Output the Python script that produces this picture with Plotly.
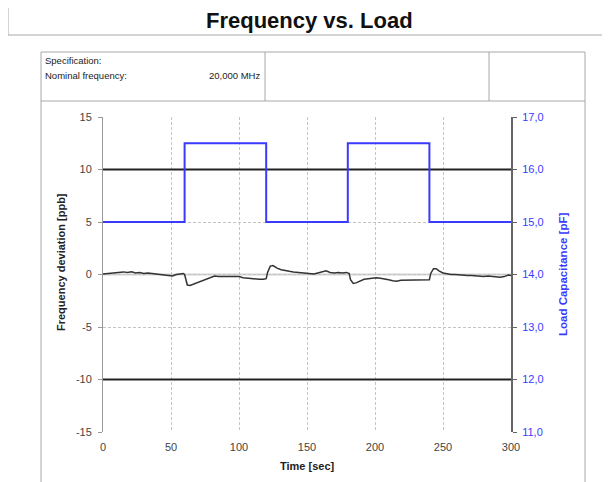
import plotly.graph_objects as go

# ---- data ----
time_s = [0, 3, 6, 9, 12, 15, 18, 21, 24, 27, 30, 33, 36, 39, 42, 45, 48, 51, 54, 57, 59,
          60, 61, 62, 64, 67, 70, 73, 76, 79, 82, 85, 88, 91, 94, 97, 100, 103, 106, 109,
          112, 115, 118, 120, 121, 123, 125, 128, 131, 134, 137, 140, 143, 146, 149, 152,
          155, 158, 161, 164, 167, 170, 173, 176, 179, 181, 182, 184, 186, 189, 192, 195,
          198, 201, 204, 207, 210, 213, 216, 219, 222, 225, 228, 231, 234, 237, 240, 241,
          243, 245, 247, 250, 253, 256, 259, 262, 265, 268, 271, 274, 277, 280, 283, 286,
          289, 292, 295, 298, 300]
freq_dev = [0.05, 0.1, 0.1, 0.15, 0.2, 0.25, 0.2, 0.25, 0.15, 0.2, 0.1, 0.15, 0.1, 0.05,
            0.0, -0.05, -0.1, -0.15, 0.0, 0.05, 0.1,
            0.0, -0.6, -1.0, -1.05, -0.9, -0.75, -0.6, -0.45, -0.3, -0.15, -0.2, -0.2, -0.25,
            -0.2, -0.25, -0.2, -0.3, -0.35, -0.4,
            -0.45, -0.45, -0.45, -0.4, 0.2, 0.8, 0.85, 0.6, 0.45, 0.35, 0.3, 0.25, 0.2, 0.15,
            0.1, 0.1,
            0.05, 0.15, 0.25, 0.35, 0.2, 0.15, 0.2, 0.15, 0.2, 0.1, -0.5, -0.85, -0.8, -0.6,
            -0.45, -0.4,
            -0.35, -0.3, -0.35, -0.4, -0.5, -0.6, -0.65, -0.55, -0.55, -0.5, -0.5, -0.5,
            -0.55, -0.5, -0.5, 0.1,
            0.55, 0.55, 0.35, 0.15, 0.05, 0.0, 0.0, -0.05, -0.05, -0.1, -0.1, -0.15, -0.15,
            -0.2, -0.15, -0.2,
            -0.2, -0.25, -0.2, -0.05, -0.1]

load_time = [0, 60, 60, 120, 120, 180, 180, 240, 240, 300]
load_pf = [15.0, 15.0, 16.5, 16.5, 15.0, 15.0, 16.5, 16.5, 15.0, 15.0]

spec_limits = [10, -10]
x_range = [0, 300]
y_range = [-15, 15]
y2_range = [11, 17]
x_ticks = [0, 50, 100, 150, 200, 250, 300]
y_ticks = [-15, -10, -5, 0, 5, 10, 15]
y_labels = ["-15", "-10", "-5", "0", "5", "10", "15"]
y2_ticks = [11, 12, 13, 14, 15, 16, 17]
y2_labels = ["11,0", "12,0", "13,0", "14,0", "15,0", "16,0", "17,0"]

# page body margin offset (8px) compensation
OX, OY = 8, 8
W, H = 610 - OX, 482 - OY
L, R, T, B = 103 - OX, 511 - OX, 117 - OY, 432 - OY

def px(x):
    return (x - OX - L) / (R - L)

def py(y):
    return (B - (y - OY)) / (B - T)

FONT = "Liberation Sans, Arial, sans-serif"
BLUE = "#3a3aff"
GRIDC = "#c4c4c4"
BOXC = "#a8a8a8"

fig = go.Figure()

for lim in spec_limits:
    fig.add_trace(go.Scatter(x=x_range, y=[lim, lim], mode="lines",
                             line=dict(color="#222222", width=2),
                             showlegend=False, hoverinfo="skip"))

fig.add_trace(go.Scatter(x=time_s, y=freq_dev, mode="lines",
                         line=dict(color="#333333", width=1.5),
                         showlegend=False, name="Frequency deviation"))

fig.add_trace(go.Scatter(x=load_time, y=load_pf, mode="lines", yaxis="y2",
                         line=dict(color=BLUE, width=2),
                         showlegend=False, name="Load capacitance"))

shapes = []
shapes.append(dict(type="rect", xref="paper", yref="paper",
                   x0=px(8), x1=px(640), y0=py(7), y1=py(35),
                   line=dict(color=BOXC, width=1), fillcolor="rgba(0,0,0,0)", layer="below"))
shapes.append(dict(type="rect", xref="paper", yref="paper",
                   x0=px(41), x1=px(585), y0=py(52), y1=py(520),
                   line=dict(color=BOXC, width=1), fillcolor="rgba(0,0,0,0)", layer="below"))
shapes.append(dict(type="line", xref="paper", yref="paper",
                   x0=px(41), x1=px(585), y0=py(101), y1=py(101),
                   line=dict(color=BOXC, width=1)))
for dx in (265, 489):
    shapes.append(dict(type="line", xref="paper", yref="paper",
                       x0=px(dx), x1=px(dx), y0=py(52), y1=py(101),
                       line=dict(color=BOXC, width=1)))
shapes.append(dict(type="line", xref="x", yref="y", x0=0, x1=300, y0=0, y1=0,
                   line=dict(color="#d4d4d4", width=2), layer="below"))

annotations = [
    dict(text="<b>Frequency vs. Load</b>", xref="paper", yref="paper",
         x=px(309), y=py(21), showarrow=False, xanchor="center", yanchor="middle",
         font=dict(family=FONT, size=22, color="#111111")),
    dict(text="Specification:", xref="paper", yref="paper", x=px(43), y=py(61),
         showarrow=False, xanchor="left", yanchor="middle",
         font=dict(family=FONT, size=9.5, color="#222222")),
    dict(text="Nominal frequency:", xref="paper", yref="paper", x=px(43), y=py(75),
         showarrow=False, xanchor="left", yanchor="middle",
         font=dict(family=FONT, size=9.5, color="#222222")),
    dict(text="20,000 MHz", xref="paper", yref="paper", x=px(262), y=py(75),
         showarrow=False, xanchor="right", yanchor="middle",
         font=dict(family=FONT, size=9.5, color="#222222")),
    dict(text="<b>Frequency deviation [ppb]</b>", xref="paper", yref="paper",
         x=px(61), y=py(262), showarrow=False, textangle=-90,
         xanchor="center", yanchor="middle",
         font=dict(family=FONT, size=11, color="#222222")),
    dict(text="<b>Load Capacitance [pF]</b>", xref="paper", yref="paper",
         x=px(563), y=py(275), showarrow=False, textangle=-90,
         xanchor="center", yanchor="middle",
         font=dict(family=FONT, size=11.5, color=BLUE)),
    dict(text="<b>Time [sec]</b>", xref="paper", yref="paper",
         x=px(307), y=py(466), showarrow=False, xanchor="center", yanchor="middle",
         font=dict(family=FONT, size=11, color="#222222")),
]

fig.update_layout(
    width=W, height=H,
    margin=dict(l=L, r=W - R, t=T, b=H - B, pad=0),
    paper_bgcolor="white", plot_bgcolor="white",
    showlegend=False,
    shapes=shapes, annotations=annotations,
    xaxis=dict(range=x_range, tickvals=x_ticks, showgrid=True, gridcolor=GRIDC,
               griddash="3px,2px", gridwidth=1, zeroline=False, showline=False,
               ticks="", ticklabelstandoff=7,
               tickfont=dict(family=FONT, size=11, color="#444444")),
    yaxis=dict(range=y_range, tickvals=y_ticks, ticktext=y_labels, showgrid=True,
               gridcolor=GRIDC, griddash="3px,2px", gridwidth=1, zeroline=False,
               showline=True, linecolor="#999999", linewidth=1, ticks="outside",
               ticklen=4, tickcolor="#999999", ticklabelstandoff=4,
               tickfont=dict(family=FONT, size=11, color="#444444")),
    yaxis2=dict(range=y2_range, tickvals=y2_ticks, ticktext=y2_labels,
                overlaying="y", side="right", showgrid=False, zeroline=False,
                showline=True, linecolor="#666666", linewidth=2, ticks="outside",
                ticklen=4, tickcolor="#666666", ticklabelstandoff=3,
                tickfont=dict(family=FONT, size=11, color=BLUE)),
)

fig.write_html("out.html")
